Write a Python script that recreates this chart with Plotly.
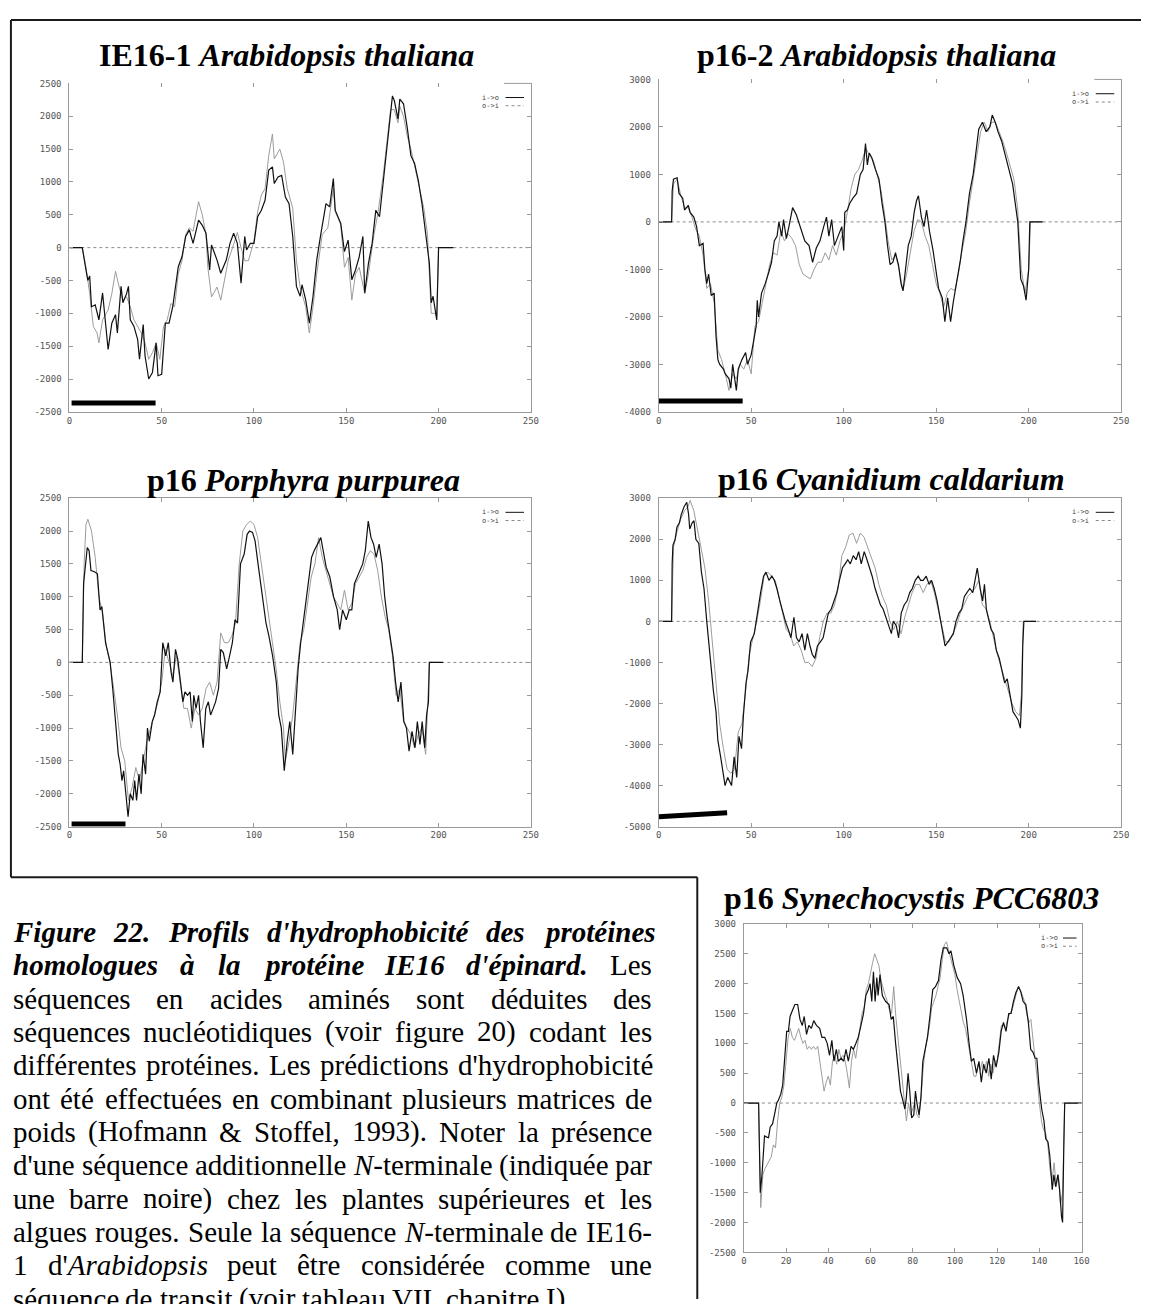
import glob
import struct
import plotly.graph_objects as go

W, H = 1149, 1304

# ---------------- DATA (residue position, hydrophobicity score) ----------------
ie161_io = [(0,0),(7,0),(9,-340),(10,-500),(11,-430),(12,-900),(14,-870),(16,-1100),(18,-690),(19,-1000),(21,-1550),(23,-1150),(25,-1020),(26,-1300),(28,-590),(29,-840),(31,-700),(32,-590),(33,-1100),(35,-1200),(37,-1400),(38,-1700),(40,-1170),(41,-1650),(43,-2000),(45,-1900),(47,-1450),(48,-1950),(50,-1930),(52,-1150),(54,-1150),(56,-900),(57,-690),(59,-290),(61,-140),(63,170),(65,270),(67,65),(70,420),(72,340),(74,220),(76,-340),(77,40),(80,-190),(82,-390),(85,-190),(87,65),(89,220),(91,65),(93,-540),(95,170),(96,-35),(98,65),(100,65),(102,470),(104,570),(106,720),(108,1180),(110,1230),(111,975),(113,1075),(115,1100),(117,770),(119,670),(121,170),(123,-590),(125,-740),(126,-565),(128,-790),(130,-1150),(132,-740),(134,-190),(136,170),(139,670),(141,620),(143,1050),(144,570),(147,370),(149,-60),(151,115),(153,-490),(155,-340),(157,-140),(159,170),(160,-690),(162,-240),(164,65),(166,570),(168,470),(170,1025),(171,1280),(173,1780),(175,2310),(176,2240),(178,1960),(179,2260),(181,2190),(183,1830),(185,1400),(187,1280),(189,1025),(191,670),(193,170),(195,-240),(196,-840),(197,-740),(199,-1100),(200,0),(208,0)]
ie161_oi = [(0,0),(7,0),(9,-300),(11,-700),(13,-1200),(15,-1300),(16,-1450),(18,-1100),(20,-1000),(21,-950),(23,-700),(25,-360),(27,-600),(29,-800),(31,-750),(33,-900),(35,-1100),(37,-1200),(39,-1300),(41,-1450),(43,-1700),(45,-1600),(47,-1450),(49,-1700),(51,-1200),(53,-1100),(55,-850),(57,-900),(59,-400),(61,-200),(63,200),(65,300),(67,250),(70,700),(72,500),(74,200),(75,-300),(77,-750),(80,-600),(82,-800),(84,-500),(86,-200),(89,50),(91,230),(93,0),(95,-200),(97,-200),(100,100),(102,550),(104,800),(106,900),(108,1400),(110,1730),(111,1350),(114,1500),(116,1300),(118,900),(121,600),(123,-200),(125,-600),(126,-700),(128,-900),(130,-1300),(132,-900),(134,-400),(137,200),(140,300),(143,900),(144,550),(147,350),(149,-300),(151,-150),(153,-800),(155,-400),(157,-300),(160,-700),(162,-400),(165,200),(167,500),(170,1100),(172,1600),(174,2100),(176,2100),(178,1900),(179,2150),(181,2000),(183,1700),(185,1500),(187,1250),(189,1000),(192,600),(194,200),(196,-1000),(198,-1000),(199,-1050),(200,0),(208,0)]

p162_io = [(0,0),(7,0),(7.3,650),(8,900),(10,930),(11,600),(13,500),(14,250),(16,350),(17,200),(19,100),(20.5,-100),(22,-500),(24,-450),(25,-1000),(26,-1300),(27,-1100),(28.4,-1550),(30,-1500),(31,-2400),(32,-2900),(33,-3000),(35,-3100),(36,-3200),(38,-3300),(39,-3500),(40,-3000),(42,-3550),(43,-3100),(45,-2900),(47,-2750),(48,-3000),(50,-2800),(51,-2600),(52.7,-2200),(53.3,-1650),(54,-2000),(55.6,-1500),(57.6,-1300),(59.6,-1050),(61,-850),(62.5,-400),(64,-300),(65,0),(66.5,-300),(67.5,50),(69,-350),(70.4,-100),(72.4,300),(74.4,150),(75.7,0),(77.3,-200),(79,-400),(81.3,-500),(83.2,-850),(85.2,-550),(87.2,-400),(89.2,-100),(90.7,100),(92,-300),(93.5,50),(95,-500),(97,-300),(99,-100),(100,-600),(100.6,200),(102,250),(103.4,400),(105,500),(107,600),(109,1000),(110.5,1100),(111.8,1650),(112.8,1200),(113.8,1450),(115.2,1350),(117.2,1100),(119.1,900),(120.7,400),(122.3,0),(123.7,-500),(125.1,-900),(126.6,-850),(128,-650),(129.6,-900),(131,-1300),(132.1,-1450),(133.5,-900),(134.9,-500),(136.5,-300),(138.1,200),(139.4,450),(140.4,550),(142,100),(143.4,-100),(144.8,250),(146.4,-200),(148.3,-600),(149.9,-1000),(151.3,-1400),(153.3,-1600),(154.7,-2100),(156.2,-1600),(157.8,-2100),(159.2,-1700),(161.1,-1300),(163.1,-800),(164.5,-400),(166.1,0),(168,600),(170,1000),(171.6,1500),(173,1950),(175,2100),(177,1900),(179,2000),(180.3,2250),(181.9,2100),(183.4,1900),(185.4,1700),(187.4,1400),(189.3,1100),(191.3,800),(192.7,400),(194.1,0),(195.7,-1200),(197.2,-1350),(198.6,-1650),(200,-1000),(200.6,0),(207.5,0)]
p162_oi = [(0,0),(7,0),(8,800),(10,900),(12,550),(14,300),(16,300),(18,100),(20,-150),(22,-300),(24,-700),(26,-1400),(28,-1300),(30,-1700),(32,-2700),(34,-2900),(36,-3200),(38,-3550),(40,-3200),(42,-3300),(44,-3000),(46,-3100),(48,-2900),(50,-3200),(52,-2200),(54,-2100),(56,-1700),(58,-1300),(60,-900),(62,-650),(64,-700),(66,-200),(68,-400),(70,-250),(72,-350),(74,-500),(76,-900),(78,-1100),(80,-1150),(82,-1200),(84,-1000),(86,-850),(88,-850),(90,-650),(92,-800),(94,-500),(96,-700),(98,-400),(100,-200),(102,200),(104,700),(106,1000),(108,1100),(110,1300),(112,1550),(114,1400),(116,1300),(118,1000),(120,700),(122,200),(124,-400),(126,-800),(128,-700),(130,-1000),(132,-1450),(134,-1100),(136,-600),(138,-200),(140,50),(142,0),(144,-300),(146,-500),(148,-900),(150,-1300),(152,-1500),(154,-1800),(156,-1500),(158,-1400),(160,-1450),(162,-1100),(164,-600),(166,-200),(168,400),(170,900),(172,1400),(174,1900),(176,2100),(178,1900),(180,2100),(182,2100),(184,1900),(186,1700),(188,1450),(190,1150),(192,900),(194,300),(196,-1000),(198,-1500),(200,-1000),(201,0),(208,0)]

porph_io = [(0,0),(7,0),(7.7,1200),(8.7,1500),(9.7,1750),(10.7,1700),(11.7,1400),(13.6,1380),(15.2,1350),(16.6,800),(17.6,850),(19.6,300),(21.1,100),(22.1,0),(23.5,-400),(25.1,-900),(26.5,-1400),(27.5,-1550),(28.5,-1800),(29.4,-1650),(30.4,-2000),(31.8,-2350),(33,-2000),(34.4,-2100),(35.4,-1800),(36.4,-2100),(37.7,-1700),(38.9,-2000),(39.9,-1400),(41.3,-1700),(42.3,-1000),(43.3,-1200),(44.9,-900),(46.2,-800),(47.6,-600),(49.2,-450),(50.6,300),(52.2,100),(53.6,300),(55.1,-150),(56.1,-300),(57.5,200),(58.7,50),(60.1,-300),(61.5,-600),(62.6,-450),(64,-500),(65.4,-450),(66.6,-900),(67.4,-500),(68.6,-700),(70,-500),(71,-900),(72.5,-1300),(73.9,-700),(75.3,-600),(76.5,-800),(77.9,-700),(79.2,-600),(80.8,-400),(82,200),(83.4,150),(85.2,-100),(86.8,100),(88.3,300),(89.7,650),(91.1,600),(92.7,1500),(94.7,1650),(96.3,1950),(97.6,2000),(99.2,1980),(100.6,1850),(102.2,1500),(103.6,1200),(104.9,900),(106.5,600),(108.1,400),(110.1,100),(112.1,-300),(113.4,-800),(114.8,-1000),(116.4,-1650),(118,-1200),(119.4,-900),(121,-1400),(122.3,-800),(123.9,-100),(125.3,300),(126.7,600),(128.3,900),(129.8,1300),(131.2,1600),(132.6,1700),(134.6,1800),(136.2,1900),(137.5,1700),(139.1,1450),(141.1,1300),(143.1,1000),(145.1,800),(146.4,500),(148,800),(150,650),(151.6,800),(153,800),(154.4,1200),(155.9,1300),(157.5,1400),(158.9,1500),(160.3,1700),(161.9,2150),(163.4,1900),(164.8,1800),(166.2,1600),(167.8,1800),(169.4,1500),(170.8,1000),(172.1,700),(173.7,400),(175.3,100),(176.7,-300),(178.1,-600),(179.6,-300),(181.2,-900),(182.6,-1000),(184,-1350),(185.6,-1050),(187.2,-1300),(188.5,-900),(189.9,-1250),(191.1,-900),(192.5,-1300),(193.5,-800),(194.5,-600),(195,0),(202.4,0)]
porph_oi = [(0,0),(7,0),(8,1500),(9,2100),(10,2180),(12,2000),(13,1800),(14,1600),(16,1000),(18,750),(20,250),(22,0),(24,-400),(26,-800),(28,-1300),(30,-1500),(32,-2100),(34,-1900),(36,-1600),(38,-1800),(40,-1500),(42,-1200),(44,-1000),(46,-800),(48,-600),(50,-300),(52,200),(54,0),(56,-200),(58,100),(60,-300),(62,-700),(64,-700),(66,-1000),(68,-700),(70,-800),(72,-700),(74,-400),(76,-300),(78,-500),(80,-300),(82,450),(84,300),(86,300),(88,400),(90,600),(92,1500),(94,2000),(96,2100),(98,2150),(100,2100),(102,1900),(104,1500),(106,1100),(108,700),(110,300),(112,-100),(114,-600),(116,-1000),(117,-1500),(119,-1200),(121,-800),(123,-200),(125,300),(127,500),(129,900),(131,1300),(133,1500),(135,1900),(137,1600),(139,1400),(141,1200),(143,1000),(145,900),(147,800),(149,1100),(151,800),(153,900),(155,1200),(157,1300),(159,1400),(161,1600),(163,1700),(165,1650),(167,1400),(169,1000),(171,700),(173,500),(175,100),(177,-500),(179,-400),(181,-900),(183,-1000),(185,-1100),(187,-1300),(189,-1100),(191,-1000),(193,-1400),(195,0),(202,0)]

cyan_io = [(0,0),(7,0),(7.3,1400),(7.7,1850),(8.9,2000),(9.9,2300),(11.2,2400),(12.2,2600),(13.8,2800),(15.2,2900),(16.2,2600),(16.8,2250),(18.1,2400),(19.1,2450),(20.1,2000),(21.7,1900),(23.1,1200),(24.5,800),(26,0),(27.4,-700),(28.6,-1300),(29.6,-1700),(31,-2200),(32,-2900),(33.5,-3300),(34.9,-3700),(35.9,-4000),(37.3,-3800),(38.5,-3900),(39.4,-4000),(40.8,-3300),(42.2,-3800),(43.4,-2800),(44.8,-3100),(45.8,-2300),(47.2,-1500),(48.3,-1200),(49.7,-500),(51.7,-300),(52.7,0),(53.7,400),(55.1,700),(56.7,1100),(58,1200),(59.6,1000),(61.2,1100),(62.5,1000),(63.9,800),(65.5,500),(67.1,200),(68.5,0),(70.1,-200),(71.5,-400),(73.1,100),(74.5,-400),(75.9,-500),(77.5,-300),(79,-700),(80.4,-300),(81.8,-600),(83,-800),(84.4,-900),(85.8,-600),(87.4,-500),(88.9,-400),(90.3,-100),(91.7,200),(93.3,300),(94.9,500),(96.3,700),(97.7,1000),(99.3,1300),(100.8,1400),(102.2,1500),(103.6,1400),(105.2,1600),(106.7,1500),(108.1,1700),(109.5,1400),(111.1,1700),(112.6,1500),(114,1300),(115.4,1100),(117,800),(118.5,600),(119.9,400),(121.3,300),(122.9,100),(124.5,-100),(125.8,-300),(126.8,0),(128.4,-100),(129.7,-400),(131.1,200),(132.7,400),(134.3,500),(135.7,700),(137.1,800),(138.7,1000),(140.3,1100),(141.6,1000),(143,1000),(144.6,1100),(146.2,900),(147.5,1000),(148.9,800),(150.5,500),(152.1,100),(153.4,-300),(154.8,-600),(156.4,-500),(157.9,-400),(159.3,-300),(160.7,0),(162.3,200),(163.8,300),(165.2,600),(166.6,700),(168.2,800),(169.8,700),(171.2,1000),(172.2,1300),(173.8,800),(175.1,500),(176.1,900),(177.1,300),(178.1,100),(179.7,-200),(181.1,-300),(182.5,-700),(184.1,-900),(185.6,-1200),(187,-1500),(188.4,-1400),(190,-1800),(191.5,-2200),(192.9,-2300),(194.3,-2400),(195.5,-2600),(196.3,-1800),(196.8,-600),(197.4,0),(204,0)]
cyan_oi = [(0,0),(7,0),(8,1800),(10,2200),(12,2500),(14,2700),(16,2800),(17,2950),(19,2700),(21,2200),(23,1800),(25,1300),(27,500),(29,-500),(31,-1500),(33,-2500),(35,-3100),(37,-3600),(39,-3700),(41,-3600),(43,-2700),(45,-2500),(47,-1700),(49,-800),(51,-400),(53,0),(55,500),(57,1100),(59,1200),(61,1100),(63,1000),(65,600),(67,200),(69,-200),(71,-300),(73,-600),(75,-500),(77,-700),(79,-1000),(81,-1000),(83,-1100),(85,-900),(87,-400),(89,0),(91,200),(93,200),(95,400),(97,800),(99,1600),(101,1800),(103,2100),(105,2150),(107,1900),(109,2150),(111,2050),(113,1800),(115,1600),(117,1300),(119,900),(121,600),(123,400),(125,0),(127,-200),(129,0),(131,-300),(133,100),(135,400),(137,700),(139,900),(141,900),(143,700),(145,900),(147,1000),(149,700),(151,300),(153,-100),(155,-500),(157,-500),(159,-300),(161,-100),(163,200),(165,400),(167,600),(169,700),(171,800),(173,1000),(175,400),(177,300),(179,0),(181,-400),(183,-800),(185,-1100),(187,-1400),(189,-1700),(191,-2000),(193,-2200),(195,-2300),(196,-1800),(197,0),(204,0)]

syn_io = [(0,0),(7,0),(7.3,-600),(7.8,-1500),(8.6,-1200),(9.8,-550),(10.9,-570),(11.7,-580),(12.5,-400),(13.6,-350),(14.5,-200),(15.6,0),(16.4,50),(17.5,150),(18.4,300),(19.5,800),(20.3,1200),(21.1,1200),(21.9,1450),(23,1550),(24.2,1650),(25.5,1650),(26.6,1400),(27.7,1300),(28.6,1450),(29.7,1150),(30.8,1300),(32,1250),(33.1,1380),(34.4,1300),(35.9,1250),(37,1100),(38.3,1100),(39.5,1000),(40.6,800),(41.7,1050),(42.7,700),(43.8,900),(44.8,700),(46.1,750),(47.3,700),(48.4,900),(49.5,700),(50.8,950),(51.9,900),(53.1,1000),(54.2,1100),(55.5,1300),(56.7,1500),(57.8,1800),(59,1900),(59.8,2000),(60.6,1700),(61.4,2200),(62.2,1700),(63,2100),(63.6,1800),(64.5,2150),(65.6,1800),(67.2,1700),(68.8,1650),(69.8,1400),(70.8,1450),(71.9,1000),(73,600),(74.2,200),(75.3,50),(76.3,-100),(77,100),(77.8,500),(78.6,200),(79.5,-250),(80.5,-200),(81.3,200),(82,0),(83,-200),(83.9,100),(84.8,700),(85.9,900),(87,1100),(88.3,1500),(89.5,1900),(90.8,1950),(92.2,2050),(93.4,2400),(94.5,2600),(96.1,2600),(97.2,2500),(98.1,2550),(99.5,2300),(101.1,2100),(102.7,2000),(103.9,1800),(105.5,1400),(106.7,1000),(107.8,700),(108.9,750),(110.2,500),(111.4,700),(112.5,350),(113.6,650),(114.8,500),(116.1,750),(117.2,400),(118.3,800),(119.5,600),(120.8,850),(121.9,1200),(123,1350),(124.2,1200),(125.5,1500),(126.6,1500),(127.7,1700),(128.9,1850),(130.2,1950),(131.3,1850),(132.3,1700),(133.6,1650),(134.8,1350),(135.9,900),(137,850),(138,750),(138.8,750),(139.8,300),(141.1,-100),(142.2,-300),(143,-600),(144.1,-650),(145,-900),(146.1,-1450),(146.9,-1200),(147.7,-1400),(148.8,-1200),(149.6,-1450),(150.5,-1900),(151,-2000),(151.6,-700),(152,0),(160,0)]
syn_oi = [(0,0),(7,0),(8,-1750),(9,-1200),(10,-1100),(12,-950),(13,-900),(14,-700),(15,-750),(16,-300),(17,0),(18,100),(19,300),(20,700),(21,1100),(22,1250),(23,1100),(24,1050),(25,1150),(26,1250),(27,1100),(28,1000),(29,1050),(30,900),(31,950),(32,900),(33,950),(34,900),(35,950),(36,700),(37,400),(38,200),(39,350),(40,450),(41,300),(42,700),(43,800),(44,650),(45,900),(46,750),(47,800),(48,700),(49,500),(50,250),(51,700),(52,900),(53,750),(54,1000),(55,1200),(56,1500),(57,1600),(58,1900),(59,2000),(60,2200),(61,2350),(62,2500),(63,2400),(64,2300),(65,2050),(66,1900),(67,1800),(68,1700),(69,1550),(70,1500),(71,1950),(72,1450),(73,1100),(74,800),(75,400),(76,0),(77,-300),(78,0),(79,-200),(80,-100),(81,0),(82,-200),(83,-250),(84,100),(85,600),(86,900),(87,1100),(88,1300),(89,1600),(90,1700),(91,1800),(92,1950),(93,2100),(94,2400),(95,2650),(96,2700),(97,2550),(98,2400),(99,2300),(100,2150),(101,1900),(102,1700),(103,1550),(104,1350),(105,1250),(106,1050),(107,800),(108,600),(109,450),(110,450),(111,650),(112,550),(113,700),(114,550),(115,700),(116,450),(117,650),(118,500),(119,700),(120,700),(121,1000),(122,1300),(123,1300),(124,1250),(125,1400),(126,1500),(127,1550),(128,1700),(129,1850),(130,1950),(131,1900),(132,1800),(133,1700),(134,1500),(135,1350),(136,1400),(137,1100),(138,800),(139,400),(140,0),(141,-300),(142,-450),(143,-500),(144,-700),(145,-1100),(146,-1300),(147,-1000),(148,-1400),(149,-1200),(150,-1700),(151,-1500),(152,0),(160,0)]

# N-terminal extension bars: (residue, y) at both ends
ie161_bar = [(1.2, -2365), (46.7, -2365)]
p162_bar = [(0, -3770), (45.4, -3770)]
porph_bar = [(1.2, -2460), (30.4, -2460)]
cyan_bar = [(0, -4760), (37, -4660)]

ticks_x250 = [0, 50, 100, 150, 200, 250]
ticks_x160 = [0, 20, 40, 60, 80, 100, 120, 140, 160]
ticks_y2500 = [-2500, -2000, -1500, -1000, -500, 0, 500, 1000, 1500, 2000, 2500]
ticks_y3000_4000 = [-4000, -3000, -2000, -1000, 0, 1000, 2000, 3000]
ticks_y3000_5000 = [-5000, -4000, -3000, -2000, -1000, 0, 1000, 2000, 3000]
ticks_y3000_2500 = [-2500, -2000, -1500, -1000, -500, 0, 500, 1000, 1500, 2000, 2500, 3000]

legend_labels = ["i->o", "o->i"]

titles = [
    "<b>IE16-1 <i>Arabidopsis thaliana</i></b>",
    "<b>p16-2 <i>Arabidopsis thaliana</i></b>",
    "<b>p16 <i>Porphyra purpurea</i></b>",
    "<b>p16 <i>Cyanidium caldarium</i></b>",
    "<b>p16 <i>Synechocystis PCC6803</i></b>",
]

caption_lines = [
    [("Figure 22. Profils d'hydrophobicité des protéines", "bi")],
    [("homologues à la protéine IE16 d'épinard.", "bi"), (" Les", "r")],
    [("séquences en acides aminés sont déduites des", "r")],
    [("séquences nucléotidiques (voir figure 20) codant les", "r")],
    [("différentes protéines. Les prédictions d'hydrophobicité", "r")],
    [("ont été effectuées en combinant plusieurs matrices de", "r")],
    [("poids (Hofmann & Stoffel, 1993). Noter la présence", "r")],
    [("d'une séquence additionnelle ", "r"), ("N", "i"), ("-terminale (indiquée par", "r")],
    [("une barre noire) chez les plantes supérieures et les", "r")],
    [("algues rouges. Seule la séquence ", "r"), ("N", "i"), ("-terminale de IE16-", "r")],
    [("1 d'", "r"), ("Arabidopsis", "i"), (" peut être considérée comme une", "r")],
    [("séquence de transit (voir tableau VII, chapitre I).", "r")],
]

# ---------------- LAYOUT CONSTANTS ----------------
SERIF = "Liberation Serif, Times New Roman, serif"
MONO = "DejaVu Sans Mono, monospace"
CAP_SIZE = 29
CAP_L, CAP_R = 10, 655
CAP_Y0, CAP_DY = 934, 33.6

panels = [
    dict(box=(67, 79, 533, 410), title=(286, 50), xr=[0, 250], xt=ticks_x250, yr=[-2500, 2500], yt=ticks_y2500,
         io=ie161_io, oi=ie161_oi, bar=ie161_bar, topline=False),
    dict(box=(662, 75, 1129, 410), title=(882, 50), xr=[0, 250], xt=ticks_x250, yr=[-4000, 3000], yt=ticks_y3000_4000,
         io=p162_io, oi=p162_oi, bar=p162_bar, topline=False),
    dict(box=(67, 497, 533, 828), title=(303, 479), xr=[0, 250], xt=ticks_x250, yr=[-2500, 2500], yt=ticks_y2500,
         io=porph_io, oi=porph_oi, bar=porph_bar, topline=True),
    dict(box=(662, 497, 1129, 828), title=(897, 478), xr=[0, 250], xt=ticks_x250, yr=[-5000, 3000], yt=ticks_y3000_5000,
         io=cyan_io, oi=cyan_oi, bar=cyan_bar, topline=True),
    dict(box=(748, 926, 1089, 1257), title=(917, 900), xr=[0, 160], xt=ticks_x160, yr=[-2500, 3000], yt=ticks_y3000_2500,
         io=syn_io, oi=syn_oi, bar=None, topline=True),
]


def fx(px):
    return px / W


def fy(py):
    return 1 - py / H


# ---------------- font metrics for the justified caption ----------------
def load_font(path):
    data = open(path, 'rb').read()
    n = struct.unpack('>H', data[4:6])[0]
    tables = {}
    for i in range(n):
        tag, cs, off, ln = struct.unpack('>4sIII', data[12 + 16 * i:28 + 16 * i])
        tables[tag.decode('latin1')] = off
    off = tables['head']
    upem = struct.unpack('>H', data[off + 18:off + 20])[0]
    off = tables['hhea']
    nhm = struct.unpack('>H', data[off + 34:off + 36])[0]
    off = tables['hmtx']
    adv = [struct.unpack('>H', data[off + 4 * i:off + 4 * i + 2])[0] for i in range(nhm)]
    off = tables['cmap']
    nsub = struct.unpack('>H', data[off + 2:off + 4])[0]
    cmap = {}
    for i in range(nsub):
        pid, eid, so = struct.unpack('>HHI', data[off + 4 + 8 * i:off + 12 + 8 * i])
        st = off + so
        fmt = struct.unpack('>H', data[st:st + 2])[0]
        if fmt != 4:
            continue
        segx2 = struct.unpack('>H', data[st + 6:st + 8])[0]
        seg = segx2 // 2
        ends = struct.unpack('>%dH' % seg, data[st + 14:st + 14 + segx2])
        starts = struct.unpack('>%dH' % seg, data[st + 16 + segx2:st + 16 + 2 * segx2])
        deltas = struct.unpack('>%dh' % seg, data[st + 16 + 2 * segx2:st + 16 + 3 * segx2])
        ro_off = st + 16 + 3 * segx2
        ros = struct.unpack('>%dH' % seg, data[ro_off:ro_off + segx2])
        for s in range(seg):
            for c in range(starts[s], min(ends[s], 0x3000) + 1):
                if ros[s] == 0:
                    g = (c + deltas[s]) & 0xFFFF
                else:
                    addr = ro_off + 2 * s + ros[s] + 2 * (c - starts[s])
                    g = struct.unpack('>H', data[addr:addr + 2])[0]
                    if g:
                        g = (g + deltas[s]) & 0xFFFF
                cmap[c] = g
        break

    def width(text, size):
        w = 0
        for ch in text:
            g = cmap.get(ord(ch), 0)
            w += adv[min(g, nhm - 1)]
        return w * size / upem
    return width


def find_font(name):
    hits = glob.glob('/usr/share/fonts/**/' + name, recursive=True) + \
        glob.glob('/usr/local/share/fonts/**/' + name, recursive=True)
    return hits[0] if hits else None


metrics = {}
for key, fname in [("r", "LiberationSerif-Regular.ttf"), ("i", "LiberationSerif-Italic.ttf"),
                   ("bi", "LiberationSerif-BoldItalic.ttf")]:
    p = find_font(fname)
    try:
        metrics[key] = load_font(p) if p else None
    except Exception:
        metrics[key] = None


def text_width(text, style, size):
    f = metrics.get(style)
    if f is None:
        return len(text) * 0.45 * size
    return f(text, size)


def markup(text, style):
    t = text.replace("&", "&amp;")
    if style == "bi":
        return "<b><i>" + t + "</i></b>"
    if style == "i":
        return "<i>" + t + "</i>"
    return t


def split_words(segments):
    words = [[]]
    for text, style in segments:
        parts = text.split(" ")
        for k, part in enumerate(parts):
            if k > 0:
                words.append([])
            if part:
                words[-1].append((part, style))
    return [w for w in words if w]


# ---------------- FIGURE ----------------
fig = go.Figure()
layout = dict(width=W, height=H, margin=dict(l=0, r=0, t=0, b=0), paper_bgcolor="white",
              plot_bgcolor="white", showlegend=False)
shapes = []
annotations = []

axis_common = dict(ticks="inside", ticklen=4, tickcolor="#9a9a9a", showline=True, linecolor="#9a9a9a",
                   linewidth=1, showgrid=False, zeroline=False,
                   tickfont=dict(family=MONO, size=9, color="#555555"))

for i, p in enumerate(panels):
    n = i + 1
    sx = "" if n == 1 else str(n)
    xa, ya = "x" + sx, "y" + sx
    l, t, r, b = p["box"]
    layout["xaxis" + sx] = dict(axis_common, domain=[fx(l), fx(r)], range=p["xr"], tickvals=p["xt"],
                                ticktext=[str(v) for v in p["xt"]], anchor=ya,
                                mirror="ticks" if p["topline"] else False)
    layout["yaxis" + sx] = dict(axis_common, domain=[fy(b), fy(t)], range=p["yr"], tickvals=p["yt"],
                                ticktext=[str(v) for v in p["yt"]], anchor=xa, mirror="ticks",
                                ticklabelstandoff=5)
    # dotted zero axis
    shapes.append(dict(type="line", xref=xa + " domain", yref=ya, x0=0, x1=1, y0=0, y1=0, layer="below",
                       line=dict(color="#8a8a8a", width=1, dash="dot")))
    # series
    ox, oy = zip(*p["oi"])
    fig.add_trace(go.Scatter(x=ox, y=oy, mode="lines", line=dict(color="#9c9c9c", width=1),
                             xaxis=xa, yaxis=ya, hoverinfo="skip"))
    ix, iy = zip(*p["io"])
    fig.add_trace(go.Scatter(x=ix, y=iy, mode="lines", line=dict(color="#111111", width=1.2),
                             xaxis=xa, yaxis=ya, hoverinfo="skip"))
    if p["bar"]:
        bx, by = zip(*p["bar"])
        fig.add_trace(go.Scatter(x=bx, y=by, mode="lines", line=dict(color="black", width=5),
                                 xaxis=xa, yaxis=ya, hoverinfo="skip"))
    if not p["topline"]:
        # top ticks without a border line
        k = 5 + n
        layout["xaxis%d" % k] = dict(axis_common, overlaying=xa, side="top", anchor=ya, range=p["xr"],
                                     tickvals=p["xt"], showticklabels=False, showline=False)
        fig.add_trace(go.Scatter(x=[p["xr"][0]], y=[0], mode="lines", xaxis="x%d" % k, yaxis=ya,
                                 hoverinfo="skip", showlegend=False))
        shapes.append(dict(type="line", xref=xa + " domain", yref=ya + " domain", x0=0.942, x1=1, y0=1, y1=1,
                           line=dict(color="#9a9a9a", width=1)))
    # key
    for j, lab in enumerate(legend_labels):
        yy = 0.957 - j * 0.025
        annotations.append(dict(text=lab, xref=xa + " domain", yref=ya + " domain", x=0.935, y=yy,
                                xanchor="right", yanchor="middle", showarrow=False,
                                font=dict(family=MONO, size=7, color="#444444")))
        shapes.append(dict(type="line", xref=xa + " domain", yref=ya + " domain", x0=0.945, x1=0.985,
                           y0=yy, y1=yy,
                           line=dict(color="#111111" if j == 0 else "#888888", width=1,
                                     dash="solid" if j == 0 else "dot")))
    # title
    annotations.append(dict(text=titles[i], xref="paper", yref="paper", x=fx(p["title"][0]), y=fy(p["title"][1]),
                            xanchor="center", yanchor="middle", showarrow=False,
                            font=dict(family=SERIF, size=32, color="black")))

# frame lines
frame_col = "#1a1a1a"
for (x0, y0, x1, y1) in [(8, 15, W, 15), (8, 15, 8, 879), (8, 879, 701, 879), (701, 879, 701, H)]:
    shapes.append(dict(type="line", xref="paper", yref="paper", x0=fx(x0), y0=fy(y0), x1=fx(x1), y1=fy(y1),
                       line=dict(color=frame_col, width=2)))

# caption (justified word by word)
for li, segs in enumerate(caption_lines):
    words = split_words(segs)
    widths = [sum(text_width(tx, st, CAP_SIZE) for tx, st in w) for w in words]
    last = li == len(caption_lines) - 1
    if last or len(words) < 2:
        gap = text_width(" ", "r", CAP_SIZE)
    else:
        gap = (CAP_R - CAP_L - sum(widths)) / (len(words) - 1)
    xcur = CAP_L
    yc = CAP_Y0 + li * CAP_DY
    for w, wd in zip(words, widths):
        annotations.append(dict(text="".join(markup(tx, st) for tx, st in w), xref="paper", yref="paper",
                                x=fx(xcur), y=fy(yc), xanchor="left", yanchor="middle", showarrow=False,
                                borderpad=0, borderwidth=0,
                                font=dict(family=SERIF, size=CAP_SIZE, color="black")))
        xcur += wd + gap

layout["shapes"] = shapes
layout["annotations"] = annotations
fig.update_layout(**layout)

fig.write_html("out.html", config={"displayModeBar": False},
               post_script="document.body.style.margin='0';")
